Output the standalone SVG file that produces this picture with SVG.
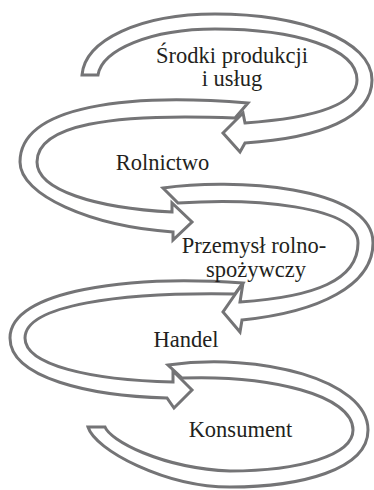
<svg xmlns="http://www.w3.org/2000/svg" width="374" height="490" viewBox="0 0 374 490">
<style>
.arr{fill:#fff;stroke:#747476;stroke-width:3;stroke-linejoin:miter}
.lbl{font-family:"Liberation Serif","Times New Roman",serif;font-size:22.5px;fill:#231f20;text-anchor:middle}
</style>
<rect width="374" height="490" fill="#fff"/>
<g id="connectors">
<path id="arrow5" class="arr" d="M168,365 C260,352 368,380 368,430 C368,470 300,487 230,487 C165,487 95,450 88,427 L105,427 C110,440 160,468 230,471 C300,471 353,455 353,430 C353,395 270,375 182,378 Z"/>
<path id="arrow4" class="arr" d="M243,283 C130,275 10,290 10,338 C10,378 90,396 167,398 L174,408 L192,390 L173,371 L173,382 C90,380 25,365 25,338 C25,305 120,292 235,294 Z"/>
<path id="arrow3" class="arr" d="M163,188 C230,178 373,185 373,243 C373,285 320,312 242,320 L240,332 L223,312 L243,283 L240,302 C315,297 358,280 358,243 C358,205 250,198 178,203 Z"/>
<path id="arrow2" class="arr" d="M248,103 C130,93 20,105 20,162 C20,195 90,226 173,232 L173,240 L192,222 L172,203 L172,212 C95,208 37,190 37,162 C37,125 110,113 235,118 Z"/>
<path id="arrow1" class="arr" d="M82,75 C85,40 140,14 215,14 C300,14 372,40 372,80 C372,118 320,138 245,143 L240,152 L223,133 L243,113 L245,123 C315,118 357,105 357,80 C357,48 295,29 215,29 C150,29 102,50 98,75 Z"/>
</g>
<g id="node-srodki"><text class="lbl" x="232" y="63">Środki produkcji</text><text class="lbl" x="232" y="86">i usług</text></g>
<g id="node-rolnictwo"><text class="lbl" x="162.5" y="170">Rolnictwo</text></g>
<g id="node-przemysl"><text class="lbl" x="254" y="253">Przemysł rolno-</text><text class="lbl" x="256" y="277">spożywczy</text></g>
<g id="node-handel"><text class="lbl" x="186" y="347">Handel</text></g>
<g id="node-konsument"><text class="lbl" x="240.5" y="437">Konsument</text></g>
</svg>
